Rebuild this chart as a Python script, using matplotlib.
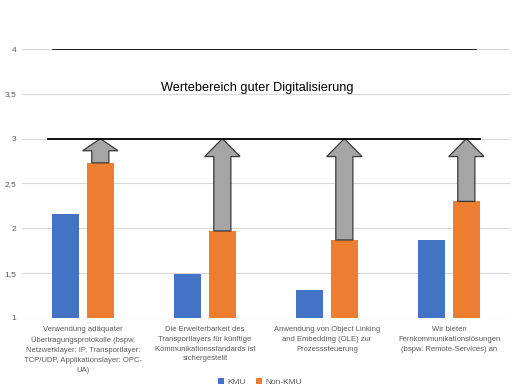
import matplotlib
matplotlib.use("Agg")
import matplotlib.pyplot as plt
import numpy as np
from matplotlib.patches import FancyArrow

categories = [
    "Verwendung adäquater\nÜbertragungsprotokolle (bspw.\nNetzwerklayer: IP, Transportlayer:\nTCP/UDP, Applikationslayer: OPC-\nUA)",
    "Die Erweiterbarkeit des\nTransportlayers für künftige\nKommunikationsstandards ist\nsichergestellt",
    "Anwendung von Object Linking\nand Embedding (OLE) zur\nProzesssteuerung",
    "Wir bieten\nFernkommunikationslösungen\n(bspw. Remote-Services) an",
]
kmu = [2.16, 1.49, 1.31, 1.87]
non_kmu = [2.73, 1.97, 1.87, 2.30]
target_low = 3.0
target_high = 4.0
yticks = [1, 1.5, 2, 2.5, 3, 3.5, 4]
ytick_labels = ["1", "1,5", "2", "2,5", "3", "3,5", "4"]

plt.rcParams["font.family"] = ["Liberation Sans", "DejaVu Sans"]
grey_txt = "#595959"

fig = plt.figure(figsize=(5.2, 3.92), dpi=100)
ax = fig.add_axes([0.0423, 0.189, 0.9385, 0.686])

x = np.arange(len(categories))
w = 0.225
off = 0.142
ax.bar(x - off, kmu, w, bottom=0, color="#4472C4", label="KMU", zorder=3)
ax.bar(x + off, non_kmu, w, bottom=0, color="#ED7D31", label="Non-KMU", zorder=3)

# arrows from Non-KMU bar up to the lower limit
for xi, v in zip(x, non_kmu):
    length = target_low - v
    hl = min(0.2, 0.5 * length)
    arr = FancyArrow(xi + off, v, 0, length, width=0.14, head_width=0.29,
                     head_length=hl, length_includes_head=True,
                     facecolor="#a5a5a5", edgecolor="#3a3a3a", lw=0.9, zorder=4)
    ax.add_patch(arr)

# hand-drawn limit lines
ax.plot([-0.287, 3.254], [target_low, target_low], color="black", lw=1.3, zorder=5)
ax.plot([-0.246, 3.221], [target_high, target_high], color="black", lw=1.2, zorder=5)
ax.text(1.426, 3.56, "Wertebereich guter Digitalisierung", ha="center", va="center",
        fontsize=9.2, color="black", zorder=6)

ax.set_xlim(-0.5, 3.5)
ax.set_ylim(1, 4)
ax.set_yticks(yticks)
ax.set_yticklabels(ytick_labels, fontsize=6, color=grey_txt)
ax.set_xticks(x)
ax.set_xticklabels(categories, fontsize=5.5, color=grey_txt, linespacing=1.55, va="top")
ax.tick_params(axis="both", length=0, pad=4)
ax.tick_params(axis="x", pad=6)
ax.grid(axis="y", color="#d9d9d9", lw=0.8, zorder=0)
for s in ax.spines.values():
    s.set_visible(False)

fig.legend(loc="center", bbox_to_anchor=(0.5, 0.026), ncol=2, frameon=False,
           fontsize=6, handlelength=0.7, handleheight=0.7, handletextpad=0.4,
           columnspacing=1.2, labelcolor=grey_txt)

fig.savefig("out.png", dpi=100)
